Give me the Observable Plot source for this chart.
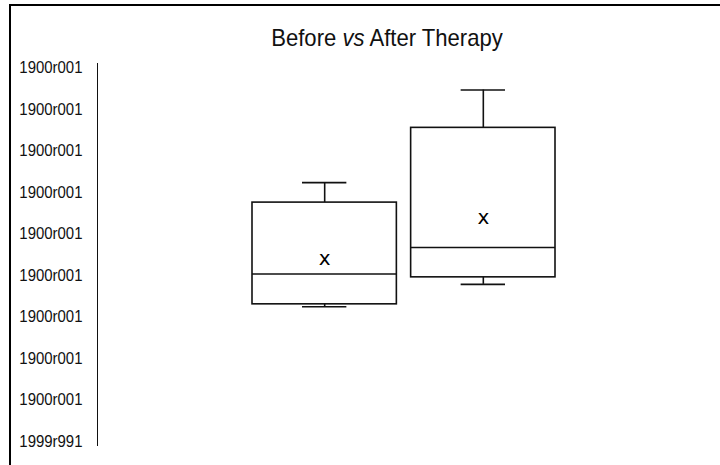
<!DOCTYPE html>
<html>
<head>
<meta charset="utf-8">
<script src="https://cdn.jsdelivr.net/npm/d3@7"></script>
<script src="https://cdn.jsdelivr.net/npm/@observablehq/plot@0.6"></script>
<style>
  html, body { margin: 0; padding: 0; background: #fff; overflow: hidden; width: 720px; height: 465px; }
  #frame { position: absolute; left: 9px; top: 4px; width: 900px; height: 600px; border-top: 2px solid #000; border-left: 2px solid #000; }
  #title { position: absolute; left: 0; width: 774px; top: 24px; text-align: center; font-family: "Liberation Sans", Arial, sans-serif; font-size: 24px; line-height: 28px; color: #111; transform: scaleX(0.92); transform-origin: 50% 50%; }
  #chart { position: absolute; left: 0; top: 0; }
</style>
</head>
<body>
<div id="frame"></div>
<div id="title">Before <i>vs</i> After Therapy</div>
<div id="chart"></div>
<script>
const groups = ["Before", "After"];
const lows = [3.24, 3.78];
const q1s = [3.30, 3.95];
const medians = [4.03, 4.67];
const q3s = [5.75, 7.55];
const highs = [6.23, 8.46];
const means = [4.40, 5.38];
const tickValues = [0, 1, 2, 3, 4, 5, 6, 7, 8, 9];
const tickLabels = ["1999r991", "1900r001", "1900r001", "1900r001", "1900r001", "1900r001", "1900r001", "1900r001", "1900r001", "1900r001"];

const rows = groups.map((g, i) => ({
  group: g, low: lows[i], q1: q1s[i], median: medians[i], q3: q3s[i], high: highs[i], mean: means[i]
}));

const stroke = "#111";
const sw = 1.6;

const chart = Plot.plot({
  width: 720,
  height: 465,
  marginLeft: 97,
  marginRight: 165,
  marginTop: 63,
  marginBottom: 20,
  style: { fontFamily: "'Liberation Sans', Arial, sans-serif", fontSize: "17px", background: "transparent", color: "#111", overflow: "visible" },
  x: { domain: groups, range: [252, 555], paddingInner: 0.09, paddingOuter: 0, round: false, axis: null },
  y: {
    domain: [-0.1, 9.1],
    ticks: tickValues,
    tickFormat: d => tickLabels[tickValues.indexOf(d)],
    tickSize: 0,
    tickPadding: 15,
    line: true,
    label: null
  },
  marks: [
    Plot.ruleX(rows, { x: "group", y1: "low", y2: "q1", stroke, strokeWidth: sw }),
    Plot.ruleX(rows, { x: "group", y1: "q3", y2: "high", stroke, strokeWidth: sw }),
    Plot.tickY(rows, { x: "group", y: "low", stroke, strokeWidth: sw, insetLeft: 50, insetRight: 50 }),
    Plot.tickY(rows, { x: "group", y: "high", stroke, strokeWidth: sw, insetLeft: 50, insetRight: 50 }),
    Plot.barY(rows, { x: "group", y1: "q1", y2: "q3", fill: "white", stroke, strokeWidth: sw }),
    Plot.tickY(rows, { x: "group", y: "median", stroke, strokeWidth: sw }),
    Plot.text(rows, { x: "group", y: "mean", text: () => "x", fontSize: 20, fontFamily: "'DejaVu Sans', sans-serif", fill: "#000" })
  ]
});
// narrow the tick labels horizontally (condensed look), keeping their right edge fixed
chart.querySelectorAll('g[aria-label="y-axis tick label"] text').forEach(t => {
  const tr = t.getAttribute("transform") || "";
  t.setAttribute("transform", `${tr} scale(0.88,1)`);
});
document.getElementById("chart").appendChild(chart);
</script>
</body>
</html>
